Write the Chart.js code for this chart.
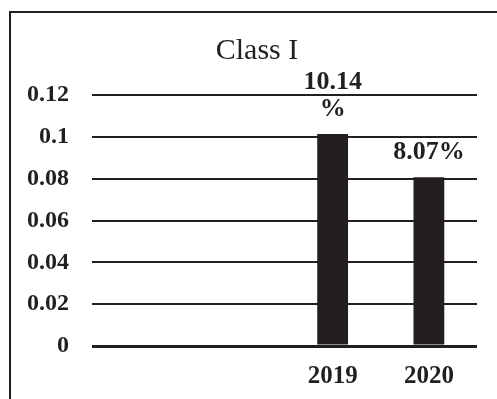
<!DOCTYPE html>
<html>
<head>
<meta charset="utf-8">
<script src="https://cdn.jsdelivr.net/npm/chart.js@4/dist/chart.umd.min.js"></script>
<style>
  html, body { margin: 0; padding: 0; background: #fff; overflow: hidden; }
  #wrap { position: relative; width: 497px; height: 399px; }
  #frame { position: absolute; left: 9px; top: 11px; width: 600px; height: 500px; border: 2px solid #231f20; }
  #chart { position: absolute; left: 0; top: 0; }
</style>
</head>
<body>
<div id="wrap">
  <div id="frame"></div>
  <canvas id="chart" width="497" height="399"></canvas>
</div>
<script>
'use strict';

var ink = '#231f20';

// data
var chartTitle  = 'Class I';
var categories  = ['', '', '2019', '2020'];
var shares      = [null, null, 0.1014, 0.0807];
var shareLabels = [null, null, ['10.14', '%'], ['8.07%']];
var yMin = 0, yMax = 0.12, yStep = 0.02;

// title sits a bit left of the plot centre, like the original
var titleText = {
    id: 'titleText',
    afterDraw: function (chart) {
        var ctx = chart.ctx;
        ctx.save();
        ctx.font = '30px "Liberation Serif"';
        ctx.fillStyle = ink;
        ctx.textAlign = 'center';
        ctx.textBaseline = 'alphabetic';
        ctx.fillText(chartTitle, 257, 59);
        ctx.restore();
    }
};

// labels above the bars (wrapped like the original)
var barLabels = {
    id: 'barLabels',
    afterDatasetsDraw: function (chart) {
        var ctx = chart.ctx;
        var bars = chart.getDatasetMeta(0).data;
        ctx.save();
        ctx.font = 'bold 26px "Liberation Serif"';
        ctx.fillStyle = ink;
        ctx.textAlign = 'center';
        ctx.textBaseline = 'middle';
        bars.forEach(function (bar, i) {
            var lines = shareLabels[i];
            if (!lines || shares[i] == null) return;
            for (var k = 0; k < lines.length; k++) {
                var off = 25 + (lines.length - 1 - k) * 27;
                ctx.fillText(lines[k], bar.x, bar.y - off);
            }
        });
        ctx.restore();
    }
};

var chart = new Chart(document.getElementById('chart'), {
    type: 'bar',
    data: {
        labels: categories,
        datasets: [{
            data: shares,
            backgroundColor: ink,
            borderWidth: 0,
            categoryPercentage: 1,
            barPercentage: 0.32
        }]
    },
    options: {
        responsive: false,
        animation: false,
        layout: { padding: { left: 0, right: 20, top: 95, bottom: 0 } },
        plugins: {
            legend: { display: false },
            tooltip: { enabled: false },
            title: { display: false }
        },
        scales: {
            x: {
                grid: { display: false, drawTicks: false },
                border: { display: false },
                ticks: {
                    color: ink,
                    padding: 16,
                    font: { family: 'Liberation Serif', size: 25, weight: 'bold' }
                },
                afterFit: function (scale) { scale.height = 53; }
            },
            y: {
                min: yMin,
                max: yMax,
                grid: {
                    color: ink,
                    drawTicks: false,
                    lineWidth: function (c) { return c.tick && c.tick.value === 0 ? 3 : 2; }
                },
                border: { display: false },
                ticks: {
                    stepSize: yStep,
                    color: ink,
                    padding: 23,
                    font: { family: 'Liberation Serif', size: 24, weight: 'bold' },
                    callback: function (v) { return String(Number(v.toFixed(2))); }
                },
                afterFit: function (scale) { scale.width = 92; }
            }
        }
    },
    plugins: [barLabels, titleText]
});
</script>
</body>
</html>
